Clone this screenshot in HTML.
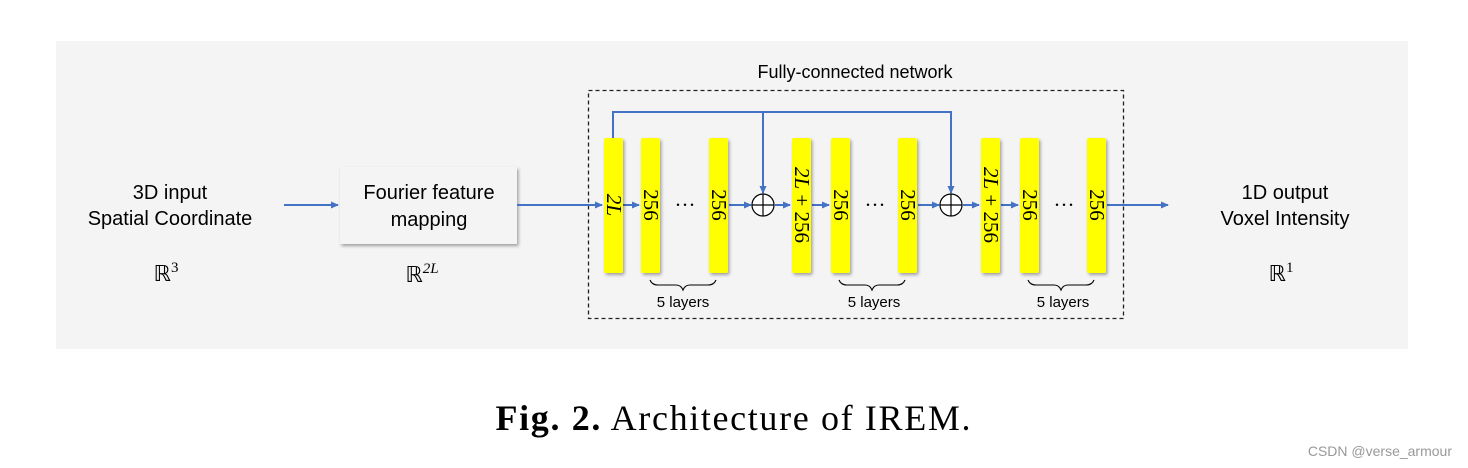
<!DOCTYPE html>
<html><head><meta charset="utf-8"><style>
body{margin:0;background:#fff;width:1468px;height:468px;overflow:hidden}
svg{display:block}
.s{font-family:"Liberation Sans",sans-serif;fill:#000}
.m{font-family:"Liberation Serif",serif;fill:#000}
</style></head><body>
<svg width="1468" height="468" viewBox="0 0 1468 468">
<defs>
<marker id="a" markerWidth="8" markerHeight="8" refX="7" refY="4" orient="auto" markerUnits="userSpaceOnUse"><path d="M0,0.5 L8,4 L0,7.5 z" fill="#4472c4"/></marker>
<filter id="sh" x="-20%" y="-20%" width="140%" height="140%"><feDropShadow dx="1.5" dy="2" stdDeviation="1.5" flood-color="#000" flood-opacity="0.35"/></filter>
</defs>
<rect x="56" y="41" width="1352" height="308" fill="#f4f4f4"/>
<text class="s" x="170" y="199" font-size="20" text-anchor="middle">3D input</text>
<text class="s" x="170" y="225" font-size="20" text-anchor="middle">Spatial Coordinate</text>
<text class="m" x="166" y="281" font-size="22" text-anchor="middle">ℝ<tspan font-size="15" dy="-9">3</tspan></text>
<rect x="340" y="167" width="177" height="77" fill="#f4f4f4" filter="url(#sh)"/>
<text class="s" x="429" y="199" font-size="20" text-anchor="middle">Fourier feature</text>
<text class="s" x="429" y="226" font-size="20" text-anchor="middle">mapping</text>
<text class="m" x="422" y="282" font-size="22" text-anchor="middle">ℝ<tspan font-size="15" dy="-9" font-style="italic">2L</tspan></text>
<text class="s" x="1285" y="199" font-size="20" text-anchor="middle">1D output</text>
<text class="s" x="1285" y="225" font-size="20" text-anchor="middle">Voxel Intensity</text>
<text class="m" x="1281" y="281" font-size="22" text-anchor="middle">ℝ<tspan font-size="15" dy="-9">1</tspan></text>
<text class="s" x="855" y="78" font-size="18" text-anchor="middle">Fully-connected network</text>
<rect x="588.5" y="90.5" width="535" height="228" fill="none" stroke="#222" stroke-width="1.3" stroke-dasharray="4,3"/>
<g stroke="#4472c4" stroke-width="2" fill="none">
<line x1="284" y1="205" x2="338" y2="205" marker-end="url(#a)"/>
<line x1="517" y1="205" x2="602" y2="205" marker-end="url(#a)"/>
<polyline points="613,138 613,112 951,112 951,193" marker-end="url(#a)"/>
<line x1="763" y1="112" x2="763" y2="193" marker-end="url(#a)"/>
<line x1="623" y1="205" x2="639" y2="205" marker-end="url(#a)"/>
<line x1="729" y1="205" x2="751" y2="205" marker-end="url(#a)"/>
<line x1="775" y1="205" x2="790" y2="205" marker-end="url(#a)"/>
<line x1="812" y1="205" x2="829" y2="205" marker-end="url(#a)"/>
<line x1="918" y1="205" x2="939" y2="205" marker-end="url(#a)"/>
<line x1="963" y1="205" x2="979" y2="205" marker-end="url(#a)"/>
<line x1="1001" y1="205" x2="1018" y2="205" marker-end="url(#a)"/>
<line x1="1107" y1="205" x2="1168" y2="205" marker-end="url(#a)"/>
</g>
<g fill="#ffff00" filter="url(#sh)">
<rect x="604" y="138" width="19" height="135" rx="2"/>
<rect x="641" y="138" width="19" height="135" rx="2"/>
<rect x="709" y="138" width="19" height="135" rx="2"/>
<rect x="792" y="138" width="19" height="135" rx="2"/>
<rect x="831" y="138" width="19" height="135" rx="2"/>
<rect x="898" y="138" width="19" height="135" rx="2"/>
<rect x="981" y="138" width="19" height="135" rx="2"/>
<rect x="1020" y="138" width="19" height="135" rx="2"/>
<rect x="1087" y="138" width="19" height="135" rx="2"/>
</g>
<g stroke="#000" stroke-width="1.2" fill="#fff">
<circle cx="763" cy="205" r="11"/><path d="M752,205h22M763,194v22"/>
<circle cx="951" cy="205" r="11"/><path d="M940,205h22M951,194v22"/>
</g>
<g class="m" font-size="21">
<text transform="translate(607,205) rotate(90)" text-anchor="middle" font-style="italic">2L</text>
<text transform="translate(644,205) rotate(90)" text-anchor="middle">256</text>
<text transform="translate(712,205) rotate(90)" text-anchor="middle">256</text>
<text transform="translate(795,205) rotate(90)" text-anchor="middle"><tspan font-style="italic">2L</tspan> + 256</text>
<text transform="translate(834,205) rotate(90)" text-anchor="middle">256</text>
<text transform="translate(901,205) rotate(90)" text-anchor="middle">256</text>
<text transform="translate(984,205) rotate(90)" text-anchor="middle"><tspan font-style="italic">2L</tspan> + 256</text>
<text transform="translate(1023,205) rotate(90)" text-anchor="middle">256</text>
<text transform="translate(1090,205) rotate(90)" text-anchor="middle">256</text>
<text x="685" y="212" text-anchor="middle">···</text>
<text x="875" y="212" text-anchor="middle">···</text>
<text x="1064" y="212" text-anchor="middle">···</text>
</g>
<g stroke="#000" stroke-width="1.1" fill="none">
<path d="M650,280 q2,5 8,5 h18 q5,0 7,5 q2,-5 7,-5 h18 q6,0 8,-5"/>
<path d="M839,280 q2,5 8,5 h18 q5,0 7,5 q2,-5 7,-5 h18 q6,0 8,-5"/>
<path d="M1028,280 q2,5 8,5 h18 q5,0 7,5 q2,-5 7,-5 h18 q6,0 8,-5"/>
</g>
<text class="s" x="683" y="307" font-size="15" text-anchor="middle">5 layers</text>
<text class="s" x="874" y="307" font-size="15" text-anchor="middle">5 layers</text>
<text class="s" x="1063" y="307" font-size="15" text-anchor="middle">5 layers</text>
<text class="m" x="733" y="430" font-size="36" text-anchor="middle" textLength="475" lengthAdjust="spacing"><tspan font-weight="bold">Fig. 2.</tspan> Architecture of IREM.</text>
<text class="s" x="1452" y="456" font-size="14" text-anchor="end" style="fill:#999">CSDN @verse_armour</text>
</svg>
</body></html>
